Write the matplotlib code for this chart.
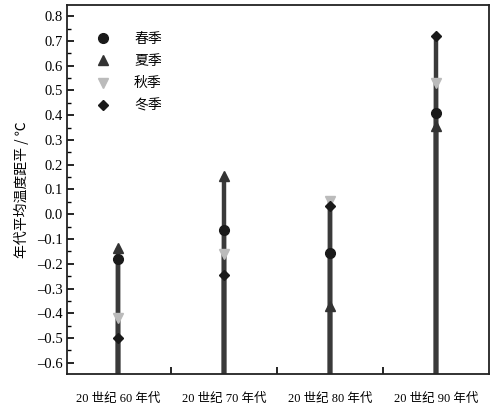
import matplotlib
matplotlib.use("Agg")
import matplotlib.pyplot as plt
from matplotlib.ticker import MultipleLocator, FixedLocator, FuncFormatter

decades = ["20 世纪 60 年代", "20 世纪 70 年代", "20 世纪 80 年代", "20 世纪 90 年代"]
spring = [-0.18, -0.065, -0.155, 0.41]
summer = [-0.135, 0.155, -0.37, 0.355]
autumn = [-0.42, -0.16, 0.055, 0.53]
winter = [-0.50, -0.245, 0.035, 0.72]

CJK = ["Noto Sans CJK SC", "DejaVu Sans"]
SERIF = ["Liberation Serif", "Noto Sans CJK SC"]

fig = plt.figure(figsize=(5.01, 4.16), dpi=100)
ax = fig.add_axes([0.134, 0.101, 0.842, 0.887])

x = list(range(1, len(decades) + 1))
ybot = -0.645

# stems from the bottom up to each value
for vals in (spring, summer, autumn, winter):
    ax.vlines(x, ybot, vals, colors="#3a3a3a", linewidth=3.2, zorder=2)

ax.plot(x, spring, "o", color="#1a1a1a", ms=7, ls="none", label="春季", zorder=4)
ax.plot(x, summer, "^", color="#333333", ms=7, ls="none", label="夏季", zorder=4)
ax.plot(x, autumn, "v", color="#bbbbbb", ms=7, ls="none", label="秋季", zorder=4)
ax.plot(x, winter, "D", color="#1a1a1a", ms=5.5, ls="none", label="冬季", zorder=4)

ax.set_xlim(0.52, 4.5)
ax.set_ylim(ybot, 0.845)

ax.yaxis.set_major_locator(MultipleLocator(0.1))
ax.yaxis.set_minor_locator(MultipleLocator(0.05))
ax.yaxis.set_major_formatter(FuncFormatter(lambda v, p: f"{v:.1f}".replace("-", "\u2013")))
ax.tick_params(axis="y", which="major", direction="in", length=5, width=1.2, labelsize=10.5, pad=3)
ax.tick_params(axis="y", which="minor", direction="in", length=3, width=1.0)

ax.set_xticks(x)
ax.set_xticklabels(decades, family=SERIF, fontsize=9)
ax.xaxis.set_minor_locator(FixedLocator([1.5, 2.5, 3.5]))
ax.tick_params(axis="x", which="major", length=0, pad=14)
ax.tick_params(axis="x", which="minor", direction="in", length=5, width=1.2)

for lab in ax.get_yticklabels():
    lab.set_family(SERIF)

for s in ax.spines.values():
    s.set_linewidth(1.3)
    s.set_color("#222222")

ax.set_ylabel("年代平均温度距平 / ℃", family=CJK, fontsize=10, labelpad=6)

leg = ax.legend(loc="upper left", bbox_to_anchor=(0.04, 0.95), frameon=False,
                prop={"family": CJK, "size": 10}, handletextpad=1.5,
                labelspacing=0.6, borderaxespad=0.2, handlelength=1.5)

fig.savefig("out.png", dpi=100)
